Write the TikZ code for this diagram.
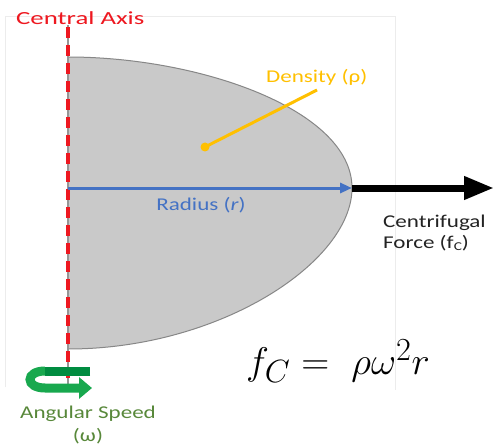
\documentclass[tikz,border=0pt]{standalone}
\usepackage{fontspec}
\setmainfont{Carlito}[FakeStretch=1.28]
\newfontfamily\widefont{Carlito}[FakeStretch=1.45]
\usetikzlibrary{arrows.meta}
\definecolor{axred}{RGB}{238,24,32}
\definecolor{axisgray}{RGB}{150,150,150}
\definecolor{bodygray}{RGB}{201,201,201}
\definecolor{edgegray}{RGB}{135,135,135}
\definecolor{framegray}{RGB}{236,236,236}
\definecolor{radblue}{RGB}{68,114,196}
\definecolor{dens}{RGB}{255,192,0}
\definecolor{angg}{RGB}{88,136,58}
\definecolor{gdark}{RGB}{0,140,64}
\definecolor{glight}{RGB}{24,168,78}
\definecolor{txt}{RGB}{35,35,35}
\begin{document}
\begin{tikzpicture}[x=1pt,y=-1pt,
  lab/.style={font=\fontsize{18}{21}\selectfont, inner sep=0pt}]
\useasboundingbox (0,0) rectangle (494,446);
\fill[white] (0,0) rectangle (494,446);
% faint frame
\draw[framegray, line width=0.8pt] (5,387) -- (5,16) -- (395,16) -- (395,390);
% body
\coordinate (top) at (68,57);
\coordinate (tip) at (352,188);
\coordinate (bot) at (68,349);
\filldraw[fill=bodygray, draw=edgegray, line width=1pt]
  (top) .. controls (200,57) and (352,110) .. (tip)
  .. controls (352,262) and (220,349) .. (bot) -- cycle;
% central axis
\coordinate (axtop) at (68,25);
\coordinate (axbot) at (68,386);
\coordinate (dtop) at (68,27);
\coordinate (dbot) at (68,378);
\draw[axisgray, line width=1.2pt] (axtop) -- (axbot);
\draw[axred, line width=3.5pt, dash pattern=on 11pt off 7pt] (dtop) -- (dbot);
\node[inner sep=0pt, font=\widefont\fontsize{18.5}{21}\selectfont, text=axred, anchor=west] (cax) at (16,18) {Central Axis};
% radius
\coordinate (axmid) at (68,188);
\draw[radblue, line width=3pt, -{Triangle[length=12pt,width=10pt]}] (axmid) -- (tip);
\node[lab, text=radblue] (rlab) at (201,205) {Radius (\textit{r})};
% centrifugal force
\coordinate (fend) at (494,188);
\draw[black, line width=7pt, -{Triangle[length=30pt,width=22pt]}] (tip) -- (fend);
\node[lab, text=txt, anchor=base west] (cf1) at (383,227) {Centrifugal};
\node[lab, text=txt, anchor=base west] (cf2) at (383,248) {Force (f\raisebox{-2.5pt}{\fontsize{12}{12}\selectfont C})};
% density
\coordinate (dl1) at (317,90);
\coordinate (ddot) at (205,147);
\draw[dens, line width=3pt] (dl1) -- (ddot);
\fill[dens] (ddot) circle (4.5pt);
\node[lab, text=dens, anchor=west] (dlab) at (266,77) {Density (ρ)};
% angular speed arrow
\coordinate (g1) at (90,371);
\coordinate (g2) at (45,371);
\coordinate (g4) at (45,388);
\coordinate (g3) at (92,388);
\draw[glight, line width=9pt, -{Triangle[length=13pt,width=21pt]}]
  (g2) .. controls (25,371) and (25,388) .. (g4) -- (g3);
\draw[gdark, line width=9pt] (g1) -- (g2);
\node[lab, text=angg] (aslab) at (88,414) {Angular Speed};
\node[lab, text=angg] (om) at (88,436) {(ω)};
% formula
\node[inner sep=0pt, anchor=base west] (eq) at (246,374)
  {\scalebox{1.56}[1.55]{\fontsize{24.88}{30}\selectfont $f_C =\ \rho\omega^2 r$}};
\end{tikzpicture}
\end{document}
